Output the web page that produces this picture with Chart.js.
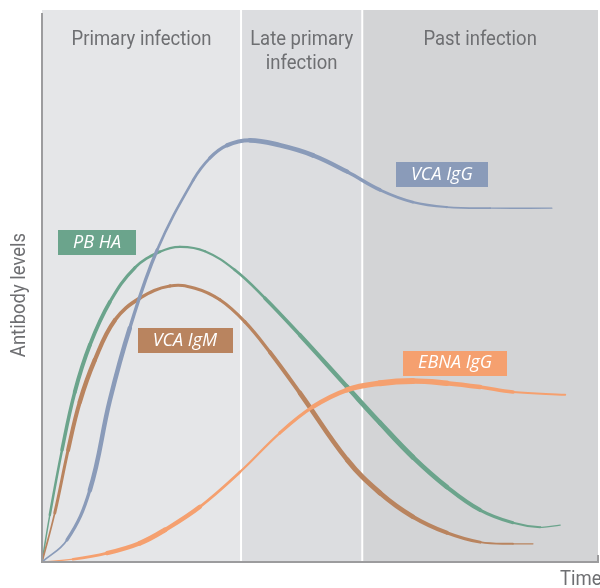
<!DOCTYPE html>
<html>
<head>
<meta charset="utf-8">
<script src="https://cdn.jsdelivr.net/npm/chart.js@4"></script>
<style>
    body { margin: 0; background: #fff; }
    #wrap { width: 600px; height: 588px; }
</style>
</head>
<body>
<div id="wrap"><canvas id="chart"></canvas></div>
<script>
// phases along the time axis (0..100)
const phaseNames = [["Primary infection"], ["Late primary", "infection"], ["Past infection"]];
const phaseBounds = [0, 35.8, 57.6, 100];

// VCA IgG
const iggX = [0, 4.5, 8.6, 12.2, 15.8, 20.7, 27.2, 30.2, 33.3, 37.4, 42.8, 48.7, 54.9, 60.8, 66.7, 72.8, 80.6, 91.7];
const iggY = [0, 4.0, 13.0, 29.3, 42.4, 56.5, 69.2, 73.2, 75.5, 76.4, 75.5, 73.7, 70.7, 67.4, 65.2, 64.3, 64.1, 64.1];
// PB HA
const pbX = [0, 1.4, 3.6, 5.9, 8.6, 12.2, 16.7, 21.2, 24.8, 29.3, 34.7, 40.1, 46.4, 54.9, 60.8, 66.7, 72.8, 78.8, 84.7, 89.6, 93.2];
const pbY = [0, 8.5, 20.3, 30.8, 39.3, 47.1, 53.3, 56.2, 57.1, 56.3, 52.9, 47.8, 41.1, 31.7, 25.2, 19.0, 13.6, 9.4, 7.1, 6.3, 6.7];
// VCA IgM
const igmX = [0, 2.3, 4.7, 6.8, 9.5, 13.1, 17.6, 23.0, 27.5, 32.0, 36.5, 41.0, 46.4, 54.9, 60.8, 66.7, 72.8, 78.8, 84.7, 88.3];
const igmY = [0, 8.9, 20.3, 29.0, 36.6, 43.8, 47.8, 50.0, 49.6, 47.5, 43.5, 38.0, 30.6, 18.5, 12.5, 8.2, 5.3, 3.6, 3.3, 3.3];
// EBNA IgG
const ebnaX = [0, 5.6, 11.7, 17.6, 22.1, 28.4, 35.6, 42.8, 48.7, 54.9, 60.8, 66.7, 72.8, 78.8, 84.7, 94.1];
const ebnaY = [0, 0.5, 1.6, 3.4, 5.8, 10.0, 16.3, 23.4, 28.1, 31.2, 32.4, 32.8, 32.4, 31.7, 30.8, 30.3];

// label anchors in data units
const labelNames = ["PB HA", "VCA IgM", "VCA IgG", "EBNA IgG"];
const labelX = [9.9, 25.7, 71.9, 74.3];
const labelY = [57.9, 40.1, 70.2, 36.0];

// stroke width profile along each curve (style, one per point)
const iggW = [1, 2.5, 4, 5, 4, 2.8, 2.4, 3, 3.8, 4.5, 5, 4.5, 4, 3.2, 2.5, 2, 1.6, 1];
const pbW = [1, 2, 3, 4, 4, 3.5, 3, 2.5, 2.2, 2.2, 2.5, 3, 4, 4.5, 5, 5, 4.5, 3.5, 2.5, 1.5, 1];
const igmW = [1, 2.5, 3.5, 4.5, 4.5, 4, 3.5, 3, 3, 3, 3.2, 3.5, 4.5, 5, 5, 4.5, 3.5, 2.5, 1.5, 1];
const ebnaW = [0.5, 2, 3.5, 5, 5, 3.5, 2, 2.5, 4, 5, 6, 6, 5, 4, 3, 1];

const colors = ["#6ba48c", "#b9845f", "#8a9bb9", "#f5a06f"];
const bandColors = ["#e5e6e8", "#dcdde0", "#d3d4d6"];
const gray = "#6e6f72";

function pts(xs, ys) {
    return xs.map((x, i) => ({ x: x, y: ys[i] }));
}

function makeSet(label, xs, ys, ws, color, order) {
    return {
        label: label,
        data: pts(xs, ys),
        borderColor: color,
        borderWidth: 3,
        pointRadius: 0,
        tension: 0.4,
        borderCapStyle: 'round',
        borderJoinStyle: 'round',
        order: order,
        segment: {
            borderWidth: ctx => (ws[ctx.p0DataIndex] + ws[ctx.p1DataIndex]) / 2
        }
    };
}

// condensed-looking text: Roboto squeezed horizontally
function squeezed(c, txt, x, y, align) {
    c.save();
    c.translate(x, y);
    c.scale(0.88, 1);
    c.textAlign = align;
    c.fillText(txt, 0, 0);
    c.restore();
}

const decor = {
    id: 'decor',
    beforeDatasetsDraw(chart) {
        const c = chart.ctx, a = chart.chartArea, xs = chart.scales.x;
        c.save();
        for (let i = 0; i < 3; i++) {
            const x0 = xs.getPixelForValue(phaseBounds[i]);
            const x1 = xs.getPixelForValue(phaseBounds[i + 1]);
            c.fillStyle = bandColors[i];
            c.fillRect(x0, a.top, x1 - x0, a.bottom - a.top);
            c.fillStyle = gray;
            c.font = '21px Roboto';
            c.textBaseline = 'alphabetic';
            phaseNames[i].forEach((t, k) => squeezed(c, t, (x0 + x1) / 2, a.top + 35 + k * 24, 'center'));
        }
        c.strokeStyle = '#ffffff';
        c.lineWidth = 2;
        for (let i = 1; i < 3; i++) {
            const x = xs.getPixelForValue(phaseBounds[i]);
            c.beginPath();
            c.moveTo(x, a.top);
            c.lineTo(x, a.bottom);
            c.stroke();
        }
        c.restore();
    },
    afterDatasetsDraw(chart) {
        const c = chart.ctx, a = chart.chartArea, xs = chart.scales.x, ys = chart.scales.y;
        c.save();
        // axes
        c.strokeStyle = '#9c9c9e';
        c.lineWidth = 2;
        c.beginPath();
        c.moveTo(a.left, a.top + 3);
        c.lineTo(a.left, a.bottom);
        c.lineTo(a.right, a.bottom);
        c.lineTo(a.right, a.bottom - 7);
        c.stroke();
        // series labels
        c.font = 'italic 18px "Open Sans"';
        c.textAlign = 'center';
        c.textBaseline = 'middle';
        for (let i = 0; i < labelNames.length; i++) {
            const cx = xs.getPixelForValue(labelX[i]);
            const cy = ys.getPixelForValue(labelY[i]);
            const w = c.measureText(labelNames[i]).width + 30;
            c.fillStyle = colors[i];
            c.fillRect(Math.round(cx - w / 2), Math.round(cy - 12.5), Math.round(w), 25);
            c.fillStyle = '#ffffff';
            c.fillText(labelNames[i], cx, cy);
        }
        // axis titles
        c.fillStyle = gray;
        c.font = '21px Roboto';
        c.textBaseline = 'alphabetic';
        squeezed(c, 'Time', a.right - 38, a.bottom + 23, 'left');
        c.translate(25, (a.top + a.bottom) / 2 + 9);
        c.rotate(-Math.PI / 2);
        squeezed(c, 'Antibody levels', 0, 0, 'center');
        c.restore();
    }
};

new Chart(document.getElementById('chart'), {
    type: 'line',
    data: {
        datasets: [
            makeSet("PB HA", pbX, pbY, pbW, colors[0], 3),
            makeSet("VCA IgM", igmX, igmY, igmW, colors[1], 2),
            makeSet("VCA IgG", iggX, iggY, iggW, colors[2], 0),
            makeSet("EBNA IgG", ebnaX, ebnaY, ebnaW, colors[3], 1)
        ]
    },
    options: {
        responsive: true,
        maintainAspectRatio: false,
        animation: false,
        layout: { padding: { left: 42, right: 2, top: 10, bottom: 26 } },
        scales: {
            x: { type: 'linear', min: 0, max: 100, display: false },
            y: { min: 0, max: 100, display: false }
        },
        plugins: {
            legend: { display: false },
            tooltip: { enabled: false }
        }
    },
    plugins: [decor]
});
</script>
</body>
</html>
